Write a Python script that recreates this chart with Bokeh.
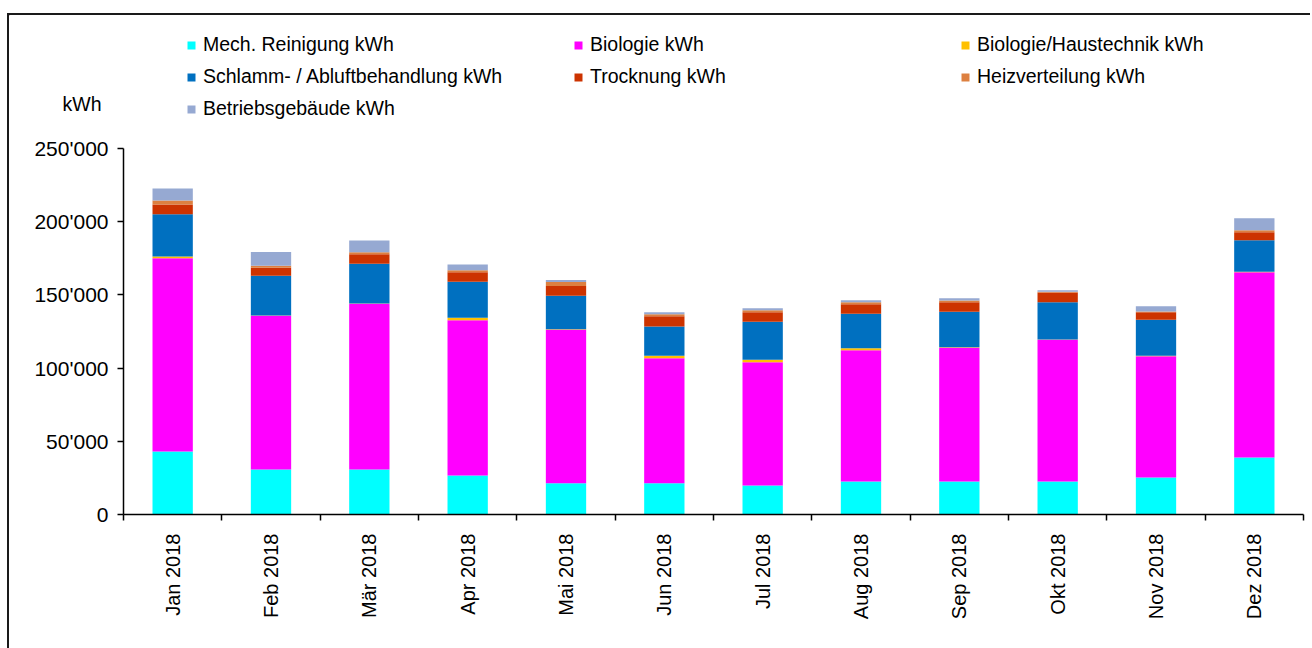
from bokeh.plotting import figure
from bokeh.models import (Range1d, FixedTicker, Legend, LegendItem, Label,
                          ColumnDataSource)
from bokeh.embed import file_html
from bokeh.resources import INLINE
import math

# Monthly energy consumption per plant section (kWh)
months = ["Jan 2018", "Feb 2018", "Mär 2018", "Apr 2018", "Mai 2018", "Jun 2018",
          "Jul 2018", "Aug 2018", "Sep 2018", "Okt 2018", "Nov 2018", "Dez 2018"]

mech_reinigung = [43000, 30700, 30700, 26600, 21400, 21400, 19800, 22500, 22500, 22500, 25300, 38900]
biologie = [132000, 105000, 113200, 106100, 104800, 85400, 84200, 89700, 91400, 96800, 82800, 126600]
biologie_haustechnik = [1200, 300, 300, 1700, 300, 1600, 1700, 1400, 300, 200, 300, 300]
schlamm_abluft = [28900, 27100, 27000, 24500, 23000, 20000, 25900, 23500, 24300, 25500, 24600, 21600]
trocknung = [6600, 5400, 6600, 6600, 6500, 7100, 6600, 6500, 6500, 6700, 5200, 5400]
heizverteilung = [2800, 1400, 1400, 1400, 2800, 1300, 1300, 1400, 1200, 400, 500, 1400]
betriebsgebaeude = [8200, 9400, 8000, 3900, 1400, 1400, 1400, 1400, 1500, 1000, 3600, 8200]

series_names = ["Mech. Reinigung kWh", "Biologie kWh", "Biologie/Haustechnik kWh",
                "Schlamm- / Abluftbehandlung kWh", "Trocknung kWh", "Heizverteilung kWh",
                "Betriebsgebäude kWh"]
series_colors = ["#00FFFF", "#FF00FF", "#FFC000", "#0070C0", "#CC3300", "#DD8040", "#96A9D2"]

y_ticks = [0, 50000, 100000, 150000, 200000, 250000]
y_tick_labels = ["0", "50'000", "100'000", "150'000", "200'000", "250'000"]

FONT = "Liberation Sans"
W = 1303
BORDER = "2px solid #1a1a1a"

keys = ["s0", "s1", "s2", "s3", "s4", "s5", "s6"]
values = [mech_reinigung, biologie, biologie_haustechnik, schlamm_abluft,
          trocknung, heizverteilung, betriebsgebaeude]
data = {"x": list(range(1, len(months) + 1))}
for k, v in zip(keys, values):
    data[k] = v
source = ColumnDataSource(data)

# ---- header strip: legend and unit label (page pixel coordinates, y downwards)
head = figure(width=W, height=113, x_range=Range1d(9, 1310), y_range=Range1d(126, 15),
              x_axis_type=None, y_axis_type=None, output_backend="svg",
              toolbar_location=None, min_border=0)
head.outline_line_color = None
head.border_fill_color = "white"
head.background_fill_color = "white"
head.styles = {"margin-left": "7px", "margin-top": "13px",
               "border-left": BORDER, "border-top": BORDER}

# swatch renderers for the legend, parked outside the visible range
swatches = [head.vbar(x=[-500], top=[0], bottom=[1], width=1,
                      fill_color=c, line_color=None)
            for c in series_colors]
legend = Legend(items=[LegendItem(label=n, renderers=[r])
                       for n, r in zip(series_names, swatches)],
                location=(177, 8), orientation="horizontal", ncols=3,
                glyph_width=10, glyph_height=10, label_standoff=7,
                label_width=361, label_height=20, spacing=9,
                padding=0, margin=0, border_line_color=None,
                background_fill_alpha=0,
                label_text_font=FONT, label_text_font_size="19.5px",
                label_text_color="black")
head.add_layout(legend)
head.add_layout(Label(x=62, y=102, text="kWh", text_font=FONT,
                      text_font_size="19.5px", text_baseline="middle",
                      text_color="black"))

# ---- main chart
p = figure(width=W, height=522,
           x_range=Range1d(0.5, len(months) + 0.5),
           y_range=Range1d(0, 250000),
           output_backend="svg", toolbar_location=None,
           min_border_left=114, min_border_right=9,
           min_border_top=22, min_border_bottom=134)
p.styles = {"margin-left": "7px", "border-left": BORDER}

p.vbar_stack(keys, x="x", width=0.41, source=source,
             fill_color=series_colors, line_color=None)

p.xgrid.visible = False
p.ygrid.visible = False
p.outline_line_color = None
p.background_fill_color = "white"
p.border_fill_color = "white"

# x axis: month labels at bar centres, tick marks between categories
xa = p.xaxis[0]
xa.ticker = FixedTicker(ticks=list(range(1, len(months) + 1)),
                        minor_ticks=[i + 0.5 for i in range(len(months) + 1)])
xa.major_label_overrides = {i + 1: m for i, m in enumerate(months)}
xa.major_label_orientation = math.pi / 2
xa.major_tick_out = 0
xa.major_tick_in = 0
xa.minor_tick_out = 6
xa.minor_tick_in = 0
xa.minor_tick_line_color = "black"
xa.minor_tick_line_width = 1.5
xa.axis_line_color = "black"
xa.axis_line_width = 1.5
xa.major_label_standoff = 13
xa.major_label_text_font = FONT
xa.major_label_text_font_size = "20px"
xa.major_label_text_color = "black"

ya = p.yaxis[0]
ya.ticker = FixedTicker(ticks=y_ticks, minor_ticks=[])
ya.major_label_overrides = dict(zip(y_ticks, y_tick_labels))
ya.major_tick_out = 6
ya.major_tick_in = 0
ya.major_tick_line_color = "black"
ya.major_tick_line_width = 1.5
ya.axis_line_color = "black"
ya.axis_line_width = 1.5
ya.major_label_standoff = 9
ya.major_label_text_font = FONT
ya.major_label_text_font_size = "21px"
ya.major_label_text_color = "black"

open("out.html", "w").write(file_html([head, p], INLINE))
